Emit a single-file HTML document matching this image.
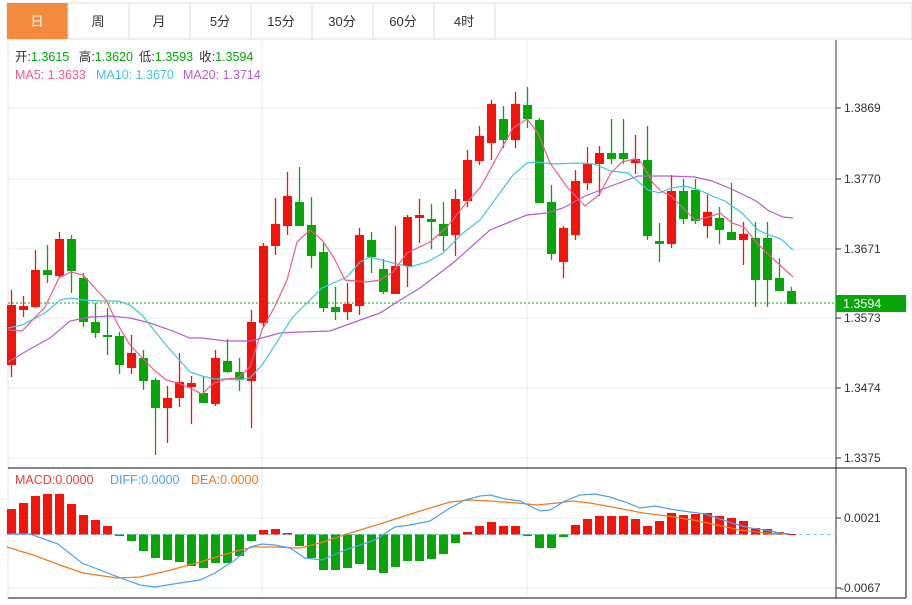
<!DOCTYPE html>
<html><head><meta charset="utf-8"><style>
body{margin:0;width:912px;height:600px;background:#fff;overflow:hidden;font-family:"Liberation Sans","Noto Sans CJK SC",sans-serif}
svg text{font-family:"Liberation Sans","Noto Sans CJK SC",sans-serif}
</style></head><body>
<svg width="912" height="600" xmlns="http://www.w3.org/2000/svg">
<!-- tabs -->
<rect x="7" y="3" width="905" height="36" fill="#fff" stroke="#ddd"/>
<rect x="7" y="3" width="61" height="36" fill="#f28b3d"/>
<g stroke="#ddd"><line x1="129" y1="3" x2="129" y2="39"/><line x1="190" y1="3" x2="190" y2="39"/><line x1="251" y1="3" x2="251" y2="39"/><line x1="312" y1="3" x2="312" y2="39"/><line x1="373" y1="3" x2="373" y2="39"/><line x1="434" y1="3" x2="434" y2="39"/><line x1="495" y1="3" x2="495" y2="39"/><line x1="68" y1="3" x2="68" y2="39"/></g>
<g font-size="13" fill="#333" text-anchor="middle"><text x="37" y="26" fill="#fff">日</text><text x="98" y="26">周</text><text x="159" y="26">月</text><text x="220" y="26">5分</text><text x="281" y="26">15分</text><text x="342" y="26">30分</text><text x="403" y="26">60分</text><text x="464" y="26">4时</text></g>
<!-- frame & grid -->
<line x1="8" y1="39" x2="8" y2="598" stroke="#dde6ee"/>
<g stroke="#e3ecf3"><line x1="8" y1="108" x2="836" y2="108"/><line x1="8" y1="179" x2="836" y2="179"/><line x1="8" y1="249" x2="836" y2="249"/><line x1="8" y1="318" x2="836" y2="318"/><line x1="8" y1="388" x2="836" y2="388"/><line x1="8" y1="458" x2="836" y2="458"/><line x1="8" y1="518" x2="836" y2="518"/><line x1="8" y1="588" x2="836" y2="588"/><line x1="262" y1="40" x2="262" y2="598"/><line x1="527" y1="40" x2="527" y2="598"/></g>
<line x1="836" y1="40" x2="836" y2="598" stroke="#333"/>
<line x1="8" y1="468" x2="906" y2="468" stroke="#111"/>
<line x1="8" y1="598" x2="906" y2="598" stroke="#111"/>
<line x1="906" y1="468" x2="906" y2="598" stroke="#111"/>
<g stroke="#333"><line x1="836" y1="108" x2="841" y2="108"/><line x1="836" y1="179" x2="841" y2="179"/><line x1="836" y1="249" x2="841" y2="249"/><line x1="836" y1="318" x2="841" y2="318"/><line x1="836" y1="388" x2="841" y2="388"/><line x1="836" y1="458" x2="841" y2="458"/><line x1="836" y1="518" x2="841" y2="518"/><line x1="836" y1="588" x2="841" y2="588"/></g>
<g font-size="12" fill="#333"><text x="844" y="112">1.3869</text><text x="844" y="183">1.3770</text><text x="844" y="253">1.3671</text><text x="844" y="322">1.3573</text><text x="844" y="392">1.3474</text><text x="844" y="462">1.3375</text><text x="844" y="522">0.0021</text><text x="840" y="592">-0.0067</text></g>
<!-- info -->
<g font-size="12.5"><text x="15" y="61" fill="#333">开:<tspan fill="#0a0">1.3615</tspan>  <tspan dx="6">高:</tspan><tspan fill="#0a0">1.3620</tspan><tspan dx="6">低:</tspan><tspan fill="#0a0">1.3593</tspan><tspan dx="6">收:</tspan><tspan fill="#0a0">1.3594</tspan></text>
<text x="15" y="79" fill="#ef5b8b">MA5: 1.3633</text><text x="96" y="79" fill="#41c6e0">MA10: 1.3670</text><text x="183" y="79" fill="#b45fcb">MA20: 1.3714</text>
<text x="15" y="484" fill="#ef3b3b">MACD:0.0000</text><text x="110" y="484" fill="#4aa3f0">DIFF:0.0000</text><text x="191" y="484" fill="#f07a1e">DEA:0.0000</text></g>
<!-- current price -->
<line x1="8" y1="303" x2="836" y2="303" stroke="#5ec85e" stroke-dasharray="2,2" stroke-width="1.5"/>
<rect x="836" y="295" width="70" height="17" fill="#09a509"/>
<text x="843" y="308" font-size="12.5" fill="#fff">1.3594</text>
<!-- candles -->
<g id="c"></g>
<!-- MA lines -->
<polyline fill="none" stroke="#b45fcb" stroke-width="1.2" points="8,362 30,349 50,338 70,321 90,317 110,316 130,318 150,323 170,330 190,338 202,338 226,341 250,341 262,338 280,333 300,332 330,331 363,319 380,313 397,302 420,288 453,263 490,230 527,215 547,213 563,208 585,196 611,186 638,176 668,176 695,177 712,181 729,188 744,195 756,201 769,211 783,217 793,218"/>
<polyline fill="none" stroke="#41c6e0" stroke-width="1.2" points="8,328 22,325 45,313 60,300 71,298 83,300 100,301 118,301 130,305 142,315 166,345 190,372 202,376 214,379 226,379 238,380 250,378 262,365 275,345 292,318 322,288 347,277 360,262 370,257 393,263 410,267 427,262 443,253 463,233 480,220 513,175 527,163 537,162 553,164 577,163 594,164 611,171 628,173 648,190 660,193 671,188 685,186 699,190 712,196 725,201 742,213 758,230 769,235 781,239 793,250"/>
<polyline fill="none" stroke="#ef5b8b" stroke-width="1.2" points="8,330 22,331 45,307 59,278 71,272 83,275 106,300 118,325 130,345 154,370 166,380 178,383 190,388 202,394 214,383 226,379 238,378 250,367 262,330 275,306 287,280 297,242 310,230 322,240 334,258 345,280 367,282 380,280 393,272 407,253 430,242 447,227 467,202 480,188 497,157 513,128 527,119 538,133 550,163 567,187 585,206 599,195 611,173 622,162 634,159 641,162 653,183 661,191 671,196 695,220 709,217 720,213 732,223 744,227 756,242 769,255 781,266 793,277"/>
<!-- MACD -->
<line x1="8" y1="534.5" x2="836" y2="534.5" stroke="#7cc8e8" stroke-dasharray="4,3"/>
<g id="m"></g>
<polyline fill="none" stroke="#f07a1e" stroke-width="1.2" points="7,547 33,555 60,565 83,573 117,578 140,577 167,571 200,562 233,552 253,547 273,547 300,548 320,543 350,533 383,523 417,512 450,502 470,500 490,501 517,503 537,505 557,503 573,501 590,503 617,508 643,513 667,516 693,520 717,525 740,530 767,533 790,534"/>
<polyline fill="none" stroke="#4aa3f0" stroke-width="1.2" points="8,534 30,534 58,544 82,563 110,574 140,585 155,587 180,583 200,580 215,573 235,560 250,547 262,544 275,545 290,548 305,558 322,560 345,550 360,545 375,540 395,527 410,525 430,521 450,508 465,500 480,496 490,495 505,499 520,501 530,506 540,511 550,510 565,501 580,495 595,494 610,497 625,502 640,508 655,506 670,509 690,512 705,514 720,519 735,524 750,528 765,530 780,533 790,534"/>
</svg>
<script>
var C=[["r",305,365,290,377],["r",306,310,296,317],["r",270,307,250,308],["g",270,275,245,283],["r",239,276,232,277],["g",239,271,235,293],["g",278,322,273,327],["g",322,333,303,338],["g",335,337,308,355],["g",336,365,332,374],["r",353,368,335,374],["g",358,381,350,390],["g",380,408,378,455],["r",398,408,386,443],["r",382,398,353,407],["r",383,387,376,424],["g",393,403,376,403],["r",358,404,350,406],["g",361,372,339,373],["g",372,380,358,391],["r",322,381,310,428],["r",246,323,243,328],["r",224,246,198,255],["r",196,226,172,235],["g",202,226,167,226],["g",225,256,197,268],["g",252,308,243,312],["g",307,312,287,320],["r",304,312,283,320],["r",235,306,228,315],["g",240,257,232,273],["g",269,292,259,294],["r",266,294,226,294],["r",217,266,215,287],["r",215,218,199,243],["g",219,222,204,249],["g",224,236,202,251],["r",199,235,189,256],["r",160,201,150,207],["r",136,161,126,165],["r",104,143,100,160],["g",119,140,106,148],["r",104,140,92,148],["g",105,119,87,128],["g",120,203,118,203],["g",202,254,185,260],["r",228,262,226,278],["r",181,235,170,240],["r",164,183,147,190],["r",153,164,146,196],["g",153,159,119,164],["g",153,159,119,164],["r",159,163,135,174],["g",160,236,126,240],["g",241,244,223,262],["r",191,244,175,248],["g",191,219,179,224],["g",190,221,179,224],["r",212,226,195,238],["g",218,230,207,244],["g",232,240,183,240],["r",234,240,222,265],["g",238,280,222,307],["g",238,280,222,307],["g",278,291,258,291],["g",291,304,287,304]];
var M=[509,503,496,494,494,504,515,520,526,536,541,551,558,560,562,566,568,563,563,556,541,530,529,533,546,558,570,570,568,564,570,573,567,561,561,559,554,543,532,526,522,526,526,536,548,548,537,525,519,516,516,516,519,526,521,513,515,514,513,516,518,521,528,529,532,534];
var s="",t="",ns="http://www.w3.org/2000/svg";
for(var i=0;i<C.length;i++){var c=C[i],x=11.5+12*i,col=c[0]=="r"?"#f2140a":"#08a508";
s+='<line x1="'+x+'" y1="'+c[3]+'" x2="'+x+'" y2="'+c[4]+'" stroke="'+col+'" stroke-width="1.3"/>';
s+='<rect x="'+(x-4.5)+'" y="'+c[1]+'" width="9" height="'+Math.max(2,c[2]-c[1])+'" fill="'+col+'"/>';
var v=M[i],z=534.5,col2=v<z?"#f2140a":"#08a508",y0=Math.min(v,z),h=Math.max(1,Math.abs(v-z));
t+='<rect x="'+(x-4.5)+'" y="'+y0+'" width="9" height="'+h+'" fill="'+col2+'"/>';}
document.getElementById("c").innerHTML=s;document.getElementById("m").innerHTML=t;
</script>
</body></html>
